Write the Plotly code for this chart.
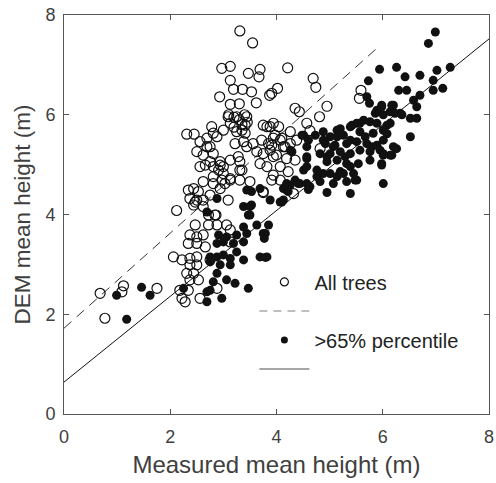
import plotly.graph_objects as go

# Open circles: all trees
all_x = [3.31,3.55,2.97,3.13,3.47,3.69,3.67,4.21,3.13,3.19,3.36,3.53,2.93,3.87,4.02,3.62,3.13,3.30,4.35,4.43,
         3.10,3.20,3.30,3.40,3.35,3.20,3.45,
         2.31,2.45,2.78,2.81,3.00,3.13,3.25,3.41,3.41,2.56,2.69,2.50,2.62,2.81,2.94,3.00,2.91,2.75,3.13,3.28,3.22,3.44,3.56,3.63,3.75,3.88,3.69,3.82,3.94,4.04,3.88,3.75,4.07,4.16,3.31,3.13,2.97,2.81,2.62,2.44,2.34,2.53,2.37,2.50,2.62,2.75,2.94,3.50,3.75,3.91,4.07,3.09,2.12,2.44,2.62,2.84,
         2.86,2.47,2.72,2.88,3.06,3.13,2.37,2.50,2.62,2.34,2.50,2.66,2.06,2.22,2.37,2.50,2.37,2.50,2.31,2.44,2.37,2.53,2.18,2.34,2.88,2.22,2.28,2.56,0.68,1.12,1.09,1.75,0.77,2.75,3.13,2.72,
         4.69,4.74,3.91,4.95,4.81,5.59,5.56,4.57,4.63,4.82,3.94,3.97,4.10,4.26,3.91,4.13,4.26,4.38,4.00,4.19,4.35,4.07,4.22,3.94,
         2.69,2.88,3.09,3.25,3.44,3.35,3.38,2.75,2.56,2.66,2.81,2.94,3.00,3.03,3.13,3.31,3.35,3.31,3.85,3.82,3.94,3.72,2.81,2.47,3.75,4.32]
all_y = [7.68,7.44,6.93,6.97,6.83,6.91,6.76,6.94,6.69,6.51,6.51,6.46,6.36,6.39,6.53,6.24,6.21,6.22,6.13,6.06,
         6.00,5.95,5.90,6.00,5.80,5.75,5.85,
         5.61,5.61,5.76,5.63,5.69,5.83,5.66,5.79,5.63,5.46,5.36,5.26,5.19,5.22,5.06,4.96,4.89,5.06,5.09,5.16,5.42,5.36,5.42,5.26,5.22,5.29,5.02,4.96,5.16,5.76,5.76,5.79,5.49,5.36,4.89,4.72,4.69,4.76,4.66,4.52,4.49,4.46,4.32,4.29,4.29,4.39,4.52,4.66,4.46,4.69,4.69,4.29,4.08,4.19,4.16,3.99,
         3.99,3.79,3.79,3.79,3.79,3.69,3.59,3.55,3.59,3.42,3.42,3.35,3.15,3.09,3.12,3.15,2.99,2.99,2.82,2.82,2.69,2.69,2.48,2.48,2.52,2.32,2.25,2.32,2.42,2.57,2.45,2.52,1.92,3.09,3.45,3.99,
         6.73,6.55,6.43,6.17,5.96,6.49,6.33,5.83,5.68,5.32,5.83,5.59,5.53,5.66,5.39,5.36,5.42,5.49,5.19,5.12,5.09,4.96,4.86,4.79,
         5.53,5.56,5.96,5.96,5.96,5.69,5.46,5.36,4.96,4.99,4.96,4.99,4.82,4.62,4.69,4.69,4.89,5.06,5.42,5.76,5.53,5.49,4.62,4.25,4.44,4.42]

# Filled circles: >65% percentile
top_x = [0.99,1.18,1.46,1.62,2.25,
         2.69,3.50,2.91,3.06,3.25,3.44,3.38,3.63,3.75,2.88,3.00,3.19,3.38,2.75,2.88,3.00,3.13,3.25,3.38,3.69,3.82,2.75,2.94,3.13,2.88,3.06,3.22,2.81,2.75,2.69,3.47,2.97,2.69,
         3.85,3.79,3.77,3.79,
         3.44,3.53,3.88,4.07,3.38,3.50,4.19,4.41,4.60,4.10,4.19,2.88,3.47,4.13,3.53,4.22,4.13,3.69,
         4.57,4.51,4.29,4.26,
         5.94,5.73,5.70,5.75,5.98,5.86,6.01,5.64,5.76,5.51,5.39,5.14,4.88,4.48,4.60,4.73,5.01,5.26,5.57,5.82,6.01,4.92,5.10,5.32,5.51,5.70,5.89,4.57,4.82,5.01,5.20,5.39,5.57,5.76,6.01,4.57,4.95,5.14,5.32,5.54,5.76,5.98,4.51,4.76,5.01,5.20,5.45,4.35,4.57,4.82,5.07,5.32,5.51,6.01,
         6.86,6.99,6.26,6.42,6.70,7.02,7.27,6.30,6.45,6.95,6.95,7.13,6.70,6.58,6.64,6.20,6.33,6.52,6.64,5.98,5.89,6.14,6.52,6.26,6.14,5.98,5.39,4.95,4.63,5.48,
         4.57,4.76,4.88,5.14,5.26,5.39,4.44,4.26,4.88,5.07,4.95,5.29,5.39,5.67,5.80,5.95,6.01,6.08,5.89,5.57,5.42,5.20,5.14,6.08,6.14,6.20,
         6.17,6.23,6.36,6.17,6.01]
top_y = [2.38,1.90,2.54,2.38,2.52,
         4.05,3.99,3.59,3.55,3.59,3.62,3.75,3.79,3.62,3.42,3.45,3.42,3.45,3.15,3.15,3.19,3.12,3.25,3.09,3.15,3.15,3.05,2.99,2.99,2.82,2.69,2.62,2.65,2.48,2.45,2.52,2.32,2.25,
         3.79,3.62,3.52,3.14,
         4.49,4.46,4.29,4.25,4.16,4.16,4.62,4.62,4.50,4.25,4.49,4.32,3.99,4.52,4.19,4.46,4.29,4.52,
         5.16,5.59,5.26,5.29,
         6.91,6.68,6.36,6.23,6.16,6.03,6.00,5.89,5.86,5.83,5.76,5.69,5.66,5.59,5.49,5.59,5.56,5.59,5.66,5.63,5.69,5.42,5.39,5.42,5.46,5.42,5.39,5.36,5.22,5.22,5.26,5.22,5.29,5.26,5.22,5.12,5.06,5.09,5.02,5.02,5.09,5.02,4.89,4.89,4.82,4.86,4.82,4.69,4.62,4.66,4.62,4.66,4.69,4.62,
         7.43,7.66,6.95,6.76,6.79,6.89,6.95,6.49,6.49,6.69,6.49,6.53,6.39,6.29,6.16,6.19,6.03,5.93,5.93,6.19,6.09,6.06,5.56,5.32,5.19,4.99,4.42,4.44,4.56,4.69,
         4.96,4.76,4.82,4.76,4.82,4.96,4.62,4.59,5.49,5.36,5.16,5.16,5.49,5.56,5.36,5.29,5.49,5.62,5.83,5.83,5.79,5.72,5.56,5.79,5.83,5.36,
         6.19,6.03,6.00,5.19,5.19]

# Fit lines
dash_x = [0, 5.95]
dash_y = [1.72, 1.72 + 0.953 * 5.95]
solid_x = [0, 8]
solid_y = [0.64, 0.64 + 0.86 * 8]

fig = go.Figure()
fig.add_trace(go.Scatter(x=dash_x, y=dash_y, mode="lines", showlegend=False,
                         line=dict(color="#333333", width=1, dash="10px,7px")))
fig.add_trace(go.Scatter(x=solid_x, y=solid_y, mode="lines", showlegend=False,
                         line=dict(color="#111111", width=1)))
fig.add_trace(go.Scatter(x=all_x, y=all_y, mode="markers", name="All trees", showlegend=False,
                         marker=dict(symbol="circle-open", size=10, color="#111111", line=dict(width=1.2))))
fig.add_trace(go.Scatter(x=top_x, y=top_y, mode="markers", name=">65% percentile", showlegend=False,
                         marker=dict(symbol="circle", size=9, color="#111111")))
# legend-only entries
fig.add_trace(go.Scatter(x=[None], y=[None], mode="markers", name="All trees",
                         marker=dict(symbol="circle-open", size=8, color="#111111", line=dict(width=1.2))))
fig.add_trace(go.Scatter(x=[None], y=[None], mode="lines", name=" ",
                         line=dict(color="#aaaaaa", width=1.5, dash="8px,6px")))
fig.add_trace(go.Scatter(x=[None], y=[None], mode="markers", name=">65% percentile",
                         marker=dict(symbol="circle", size=7, color="#111111")))
fig.add_trace(go.Scatter(x=[None], y=[None], mode="lines", name=" ",
                         line=dict(color="#888888", width=1.5)))

axis_common = dict(range=[0, 8], dtick=2, showgrid=False, zeroline=False, automargin=False,
                   showline=True, linecolor="#555555", linewidth=1, mirror="ticks",
                   ticks="inside", ticklen=5, tickcolor="#555555", ticklabeloverflow="allow",
                   tickfont=dict(size=18, color="#404040"))
fig.update_xaxes(**axis_common, ticklabelstandoff=6,
                 title=dict(text="Measured mean height (m)", font=dict(size=24, color="#404040"), standoff=10))
fig.update_yaxes(**axis_common, ticklabelstandoff=4,
                 title=dict(text="DEM mean height (m)", font=dict(size=22.5, color="#404040"), standoff=8))

fig.update_layout(
    width=496, height=483,
    margin=dict(l=64, r=7, t=15, b=69),
    plot_bgcolor="white", paper_bgcolor="white",
    font=dict(family="Liberation Sans, Arial, sans-serif", color="#222222"),
    legend=dict(x=0.448, y=0.38, xanchor="left", yanchor="top", bgcolor="rgba(0,0,0,0)",
                font=dict(size=20, color="#222222"), itemwidth=50),
)
fig.write_html("out.html", config={"displayModeBar": False},
               post_script="document.body.style.margin='0';")
